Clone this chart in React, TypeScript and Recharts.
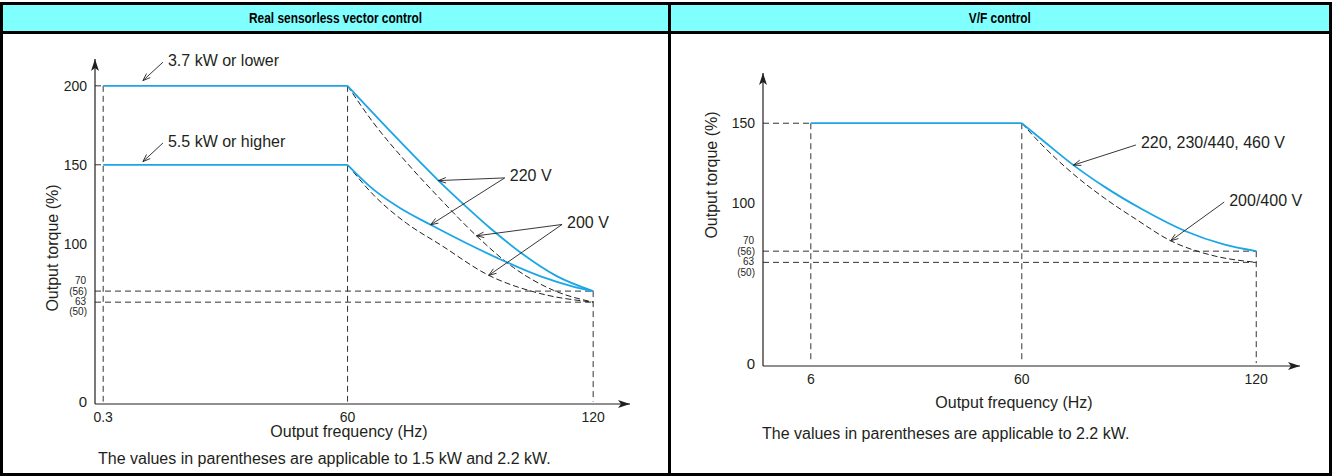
import React from "react";
import { ComposedChart, Line, XAxis, YAxis, ReferenceLine } from "recharts";

type Pt = { f: number; t: number };
type Seg = [[number, number], [number, number]];

const BLUE = "#1ba6e6";
const INK = "#231f20";
const FONT = '"Liberation Sans", Arial, Helvetica, sans-serif';

// ── Real sensorless vector control ──────────────────────────────────────────
const rsvXTicks = [0.3, 60, 120];
const rsvYTicks = [0, 63, 70, 100, 150, 200];
const rsvSubLabels: Record<number, string> = { 70: "(56)", 63: "(50)" };
const rsvFlat37: Pt[] = [{ f: 0.3, t: 200 }, { f: 60, t: 200 }];
const rsvFlat55: Pt[] = [{ f: 0.3, t: 150 }, { f: 60, t: 150 }];
const rsv220Hi: Pt[] = [
  { f: 60, t: 200 }, { f: 66.3, t: 182.5 }, { f: 74.4, t: 160.5 }, { f: 82.2, t: 140 },
  { f: 87.5, t: 127 }, { f: 94.8, t: 110 }, { f: 102.5, t: 94 }, { f: 111.1, t: 79.5 }, { f: 120, t: 70 },
];
const rsv220Lo: Pt[] = [
  { f: 60, t: 150 }, { f: 66.3, t: 134.4 }, { f: 72.8, t: 122.6 }, { f: 80.3, t: 112 },
  { f: 96.4, t: 91.2 }, { f: 107, t: 79.5 }, { f: 115.1, t: 72.9 }, { f: 120, t: 70 },
];
const rsv200Hi: Pt[] = [
  { f: 60, t: 200 }, { f: 66.2, t: 177 }, { f: 74.4, t: 151.5 }, { f: 82.6, t: 128.5 },
  { f: 91.5, t: 105 }, { f: 100.5, t: 85 }, { f: 110.3, t: 70.5 }, { f: 120, t: 63 },
];
const rsv200Lo: Pt[] = [
  { f: 60, t: 150 }, { f: 66.3, t: 131 }, { f: 74.4, t: 113 }, { f: 82.6, t: 99.5 },
  { f: 94.5, t: 80 }, { f: 107, t: 68.5 }, { f: 120, t: 63 },
];
const RSV_XMIN = -1.7;
const rsvGuides: Seg[] = [
  [[RSV_XMIN, 200], [0.3, 200]],
  [[RSV_XMIN, 150], [0.3, 150]],
  [[0.3, 200], [0.3, 0]],
  [[60, 200], [60, 0]],
  [[120, 70], [120, 0]],
  [[RSV_XMIN, 70], [120, 70]],
  [[RSV_XMIN, 63], [120, 63]],
];
const rsvNotes: { seg: Seg; text?: string }[] = [
  { seg: [[14.9, 215], [10, 203.3]], text: "3.7 kW or lower" },
  { seg: [[14.9, 163.8], [10, 152]], text: "5.5 kW or higher" },
  { seg: [[98.4, 141.7], [82.2, 140]], text: "220 V" },
  { seg: [[98.4, 141.7], [80.3, 112]] },
  { seg: [[112.4, 112.2], [91.5, 105]], text: "200 V" },
  { seg: [[112.4, 112.2], [94.5, 80]] },
];

// ── V/F control ─────────────────────────────────────────────────────────────
const vfXTicks = [6, 60, 120];
const vfYTicks = [0, 63, 70, 100, 150];
const vfSubLabels: Record<number, string> = { 70: "(56)", 63: "(50)" };
const vfFlat: Pt[] = [{ f: 6, t: 150 }, { f: 60, t: 150 }];
const vf220: Pt[] = [
  { f: 60, t: 150 }, { f: 65.1, t: 139.8 }, { f: 73.2, t: 123.8 }, { f: 81.2, t: 110.2 },
  { f: 90.8, t: 96.2 }, { f: 102.1, t: 82.3 }, { f: 111.7, t: 74.2 }, { f: 120, t: 70 },
];
const vf200: Pt[] = [
  { f: 60, t: 150 }, { f: 65.1, t: 136.6 }, { f: 73.2, t: 118.2 }, { f: 81.2, t: 103.1 },
  { f: 89.2, t: 90 }, { f: 98.1, t: 76.5 }, { f: 108.5, t: 67.5 }, { f: 120, t: 63 },
];
const VF_XMIN = -6.24;
const vfGuides: Seg[] = [
  [[VF_XMIN, 150], [6, 150]],
  [[6, 150], [6, 0]],
  [[60, 150], [60, 0]],
  [[120, 70], [120, 0]],
  [[VF_XMIN, 70], [120, 70]],
  [[VF_XMIN, 63], [120, 63]],
];
const vfNotes: { seg: Seg; text?: string }[] = [
  { seg: [[89.2, 136.4], [73.2, 123.8]], text: "220, 230/440, 460 V" },
  { seg: [[111.8, 100.7], [98.1, 76.5]], text: "200/400 V" },
];

function YTick({ x, y, payload, subs }: any) {
  const v = payload.value as number;
  const sub = subs[v];
  if (sub === undefined) {
    return (
      <text x={x} y={y} textAnchor="end" dominantBaseline="central" fontSize={v === 0 ? 15 : 14}
        fill={INK} fontFamily={FONT}>
        {v}
      </text>
    );
  }
  const keys = Object.keys(subs).map(Number);
  const upper = v === Math.max(...keys);
  const dMain = upper ? -10.5 : -0.7;
  const dSub = upper ? 0 : 9.8;
  return (
    <g fontSize={10} fill={INK} fontFamily={FONT}>
      <text x={x - 1} y={y + dMain} textAnchor="end" dominantBaseline="central">{v}</text>
      <text x={x} y={y + dSub} textAnchor="end" dominantBaseline="central">{sub}</text>
    </g>
  );
}

function Leader({ x1, y1, x2, y2, text }: any) {
  const ang = Math.atan2(y2 - y1, x2 - x1);
  const L = 8;
  const w = 0.35;
  const ax = x2 - L * Math.cos(ang - w), ay = y2 - L * Math.sin(ang - w);
  const bx = x2 - L * Math.cos(ang + w), by = y2 - L * Math.sin(ang + w);
  return (
    <g>
      <line x1={x1} y1={y1} x2={x2} y2={y2} stroke={INK} strokeWidth={0.9} />
      <path d={`M${ax},${ay} L${x2},${y2} L${bx},${by}`} fill="none" stroke={INK} strokeWidth={0.9} />
      {text && (
        <text x={x1 + 5} y={y1 - 2} dominantBaseline="central" fontSize={16} fill={INK} fontFamily={FONT}>
          {text}
        </text>
      )}
    </g>
  );
}

interface PanelProps {
  width: number;
  margin: { top: number; right: number; bottom: number; left: number };
  xDomain: [number, number];
  yDomain: [number, number];
  xTicks: number[];
  yTicks: number[];
  subs: Record<number, string>;
  solid: Pt[][];
  dashed: Pt[][];
  guides: Seg[];
  notes: { seg: Seg; text?: string }[];
}

function Panel(p: PanelProps) {
  return (
    <ComposedChart width={p.width} height={476} margin={p.margin}>
      <XAxis
        type="number" dataKey="f" domain={p.xDomain} ticks={p.xTicks} interval={0}
        allowDataOverflow height={30} tickLine={false}
        axisLine={{ stroke: INK, strokeWidth: 1.2, markerEnd: "url(#axArrow)" } as any}
        tick={{ fontSize: 14, fill: INK, fontFamily: FONT }}
      />
      <YAxis
        type="number" domain={p.yDomain} ticks={p.yTicks} interval={0}
        allowDataOverflow width={60} tickLine={false}
        axisLine={{ stroke: INK, strokeWidth: 1.2, markerStart: "url(#axArrowStart)" } as any}
        tick={(tp: any) => <YTick {...tp} subs={p.subs} />}
      />
      {p.guides.map((g, i) => (
        <ReferenceLine
          key={`g${i}`} ifOverflow="visible"
          segment={[{ x: g[0][0], y: g[0][1] }, { x: g[1][0], y: g[1][1] }]}
          stroke="#333" strokeWidth={1} strokeDasharray="6 4"
        />
      ))}
      {p.dashed.map((d, i) => (
        <Line key={`d${i}`} data={d} dataKey="t" type="monotone" stroke="#222" strokeWidth={1}
          strokeDasharray="6 3" dot={false} isAnimationActive={false} />
      ))}
      {p.solid.map((d, i) => (
        <Line key={`s${i}`} data={d} dataKey="t" type={d.length > 2 ? "monotone" : "linear"}
          stroke={BLUE} strokeWidth={1.8} dot={false} isAnimationActive={false} />
      ))}
      {p.notes.map((n, i) => (
        <ReferenceLine
          key={`n${i}`} ifOverflow="visible"
          segment={[{ x: n.seg[0][0], y: n.seg[0][1] }, { x: n.seg[1][0], y: n.seg[1][1] }]}
          shape={(sp: any) => <Leader {...sp} text={n.text} />}
        />
      ))}
    </ComposedChart>
  );
}

const abs = (l: number, t: number, w: number, h: number, extra: React.CSSProperties = {}): React.CSSProperties => ({
  position: "absolute", left: l, top: t, width: w, height: h, boxSizing: "border-box", ...extra,
});

const headStyle: React.CSSProperties = {
  display: "flex", alignItems: "center", justifyContent: "center",
  fontWeight: "bold", fontSize: 14.5, color: "#000",
};

export default function App() {
  return (
    <div style={abs(0, 0, 1338, 476, { background: "#fff", overflow: "hidden", fontFamily: FONT })}>
      <svg width={0} height={0} style={{ position: "absolute" }}>
        <defs>
          <marker id="axArrow" viewBox="0 0 12 8" refX={12} refY={4} markerWidth={12} markerHeight={8}
            markerUnits="userSpaceOnUse" orient="auto">
            <path d="M0,0 L12,4 L0,8 L3,4 z" fill={INK} />
          </marker>
          <marker id="axArrowStart" viewBox="0 0 12 8" refX={12} refY={4} markerWidth={12} markerHeight={8}
            markerUnits="userSpaceOnUse" orient="auto-start-reverse">
            <path d="M0,0 L12,4 L0,8 L3,4 z" fill={INK} />
          </marker>
        </defs>
      </svg>

      {/* table frame */}
      <div style={abs(3, 5, 1326, 26, { background: "#80ffff" })} />
      <div style={abs(0, 2, 1332, 474, { border: "3px solid #000" })} />
      <div style={abs(0, 31, 1332, 3, { background: "#000" })} />
      <div style={abs(668, 2, 3, 474, { background: "#000" })} />

      <div style={abs(3, 5, 665, 26, headStyle)}>
        <span style={{ display: "inline-block", transform: "scaleX(0.82)" }}>Real sensorless vector control</span>
      </div>
      <div style={abs(671, 5, 658, 26, headStyle)}>
        <span style={{ display: "inline-block", transform: "scaleX(0.82)" }}>V/F control</span>
      </div>

      <div style={abs(0, 0, 668, 476)}>
        <Panel
          width={668}
          margin={{ top: 59, right: 38, bottom: 42, left: 35 }}
          xDomain={[RSV_XMIN, 129]}
          yDomain={[-1.5, 217]}
          xTicks={rsvXTicks}
          yTicks={rsvYTicks}
          subs={rsvSubLabels}
          solid={[rsvFlat37, rsvFlat55, rsv220Hi, rsv220Lo]}
          dashed={[rsv200Hi, rsv200Lo]}
          guides={rsvGuides}
          notes={rsvNotes}
        />
      </div>
      <div style={abs(668, 0, 670, 476)}>
        <Panel
          width={670}
          margin={{ top: 73, right: 38, bottom: 80, left: 35 }}
          xDomain={[VF_XMIN, 131.2]}
          yDomain={[-1.8, 181.4]}
          xTicks={vfXTicks}
          yTicks={vfYTicks}
          subs={vfSubLabels}
          solid={[vfFlat, vf220]}
          dashed={[vf200]}
          guides={vfGuides}
          notes={vfNotes}
        />
      </div>

      <svg width={1338} height={476} style={{ position: "absolute", left: 0, top: 0, pointerEvents: "none" }}>
        <g fontSize={16} fill={INK} fontFamily={FONT}>
          <text x={52} y={248} textAnchor="middle" dominantBaseline="central" transform="rotate(-90 52 248)">
            Output torque (%)
          </text>
          <text x={349} y={431} textAnchor="middle" dominantBaseline="central">Output frequency (Hz)</text>
          <text x={98} y={458} dominantBaseline="central">
            The values in parentheses are applicable to 1.5 kW and 2.2 kW.
          </text>
          <text x={711} y={175} textAnchor="middle" dominantBaseline="central" transform="rotate(-90 711 175)">
            Output torque (%)
          </text>
          <text x={1014} y={402} textAnchor="middle" dominantBaseline="central">Output frequency (Hz)</text>
          <text x={762} y={433} dominantBaseline="central">
            The values in parentheses are applicable to 2.2 kW.
          </text>
        </g>
      </svg>
    </div>
  );
}
